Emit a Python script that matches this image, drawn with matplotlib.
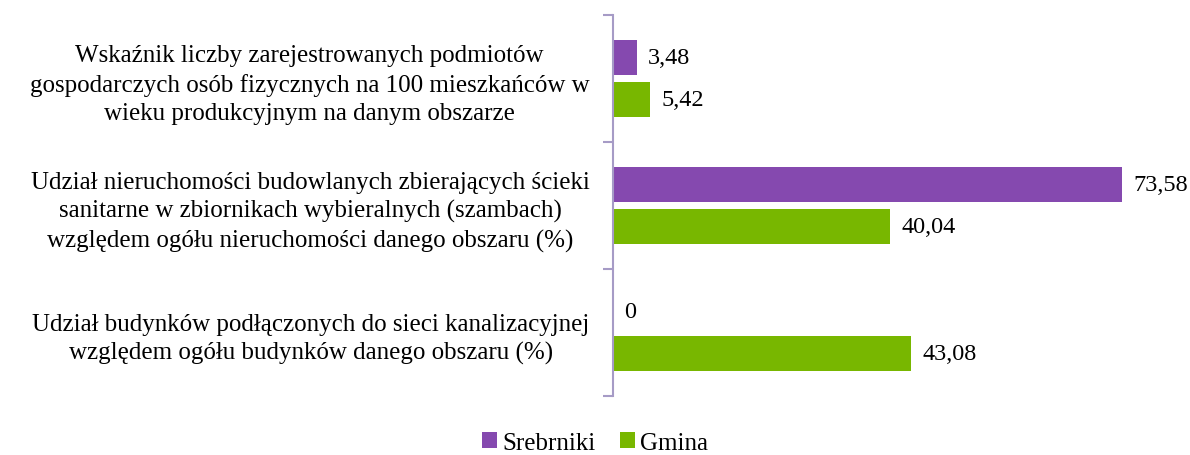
import numpy as np
import matplotlib.pyplot as plt

# Data
categories = [
    "Wskaźnik liczby zarejestrowanych podmiotów\ngospodarczych osób fizycznych na 100 mieszkańców w\nwieku produkcyjnym na danym obszarze",
    "Udział nieruchomości budowlanych zbierających ścieki\nsanitarne w zbiornikach wybieralnych (szambach)\nwzględem ogółu nieruchomości danego obszaru (%)",
    "Udział budynków podłączonych do sieci kanalizacyjnej\nwzględem ogółu budynków danego obszaru (%)",
]
srebrniki = [3.48, 73.58, 0]
gmina = [5.42, 40.04, 43.08]
srebrniki_labels = ["3,48", "73,58", "0"]
gmina_labels = ["5,42", "40,04", "43,08"]

purple = "#8549AF"
green = "#78B700"
axis_col = "#A69BC6"

plt.rcParams['font.family'] = ['Liberation Serif', 'DejaVu Serif']

fig = plt.figure(figsize=(11.9, 4.56), dpi=100)
ax = fig.add_axes([613 / 1190, 1 - 397 / 456, 1 - 613 / 1190, 381 / 456])

y = np.arange(len(categories))
h = 0.27
gap = 0.03
ax.barh(y - h / 2 - gap, srebrniki, height=h, color=purple, label="Srebrniki")
ax.barh(y + h / 2 + gap, gmina, height=h, color=green, label="Gmina")

for i in range(len(categories)):
    ax.text(srebrniki[i] + 1.6, y[i] - h / 2 - gap, srebrniki_labels[i],
            va="center", ha="left", fontsize=17.5)
    ax.text(gmina[i] + 1.6, y[i] + h / 2 + gap, gmina_labels[i],
            va="center", ha="left", fontsize=17.5)

ax.set_xlim(0, 83.4)
ax.set_ylim(len(categories) - 0.5, -0.5)

for s in ["top", "right", "bottom"]:
    ax.spines[s].set_visible(False)
ax.spines["left"].set_color(axis_col)
ax.spines["left"].set_linewidth(1.5)
ax.set_xticks([])

ax.set_yticks(y)
ax.set_yticklabels(categories, fontsize=18, multialignment="center", linespacing=1.35)
ax.tick_params(axis="y", which="major", length=0, pad=17)
ax.set_yticks(np.arange(len(categories) + 1) - 0.5, minor=True)
ax.tick_params(axis="y", which="minor", length=7, width=1.5, color=axis_col)

fig.legend(loc="center", bbox_to_anchor=(0.5, 0.026), ncol=2, frameon=False,
           prop={'family': 'Liberation Serif', 'size': 18},
           handlelength=0.6, handleheight=0.6, columnspacing=1.0,
           handletextpad=0.2)

fig.savefig("out.png", dpi=100)
